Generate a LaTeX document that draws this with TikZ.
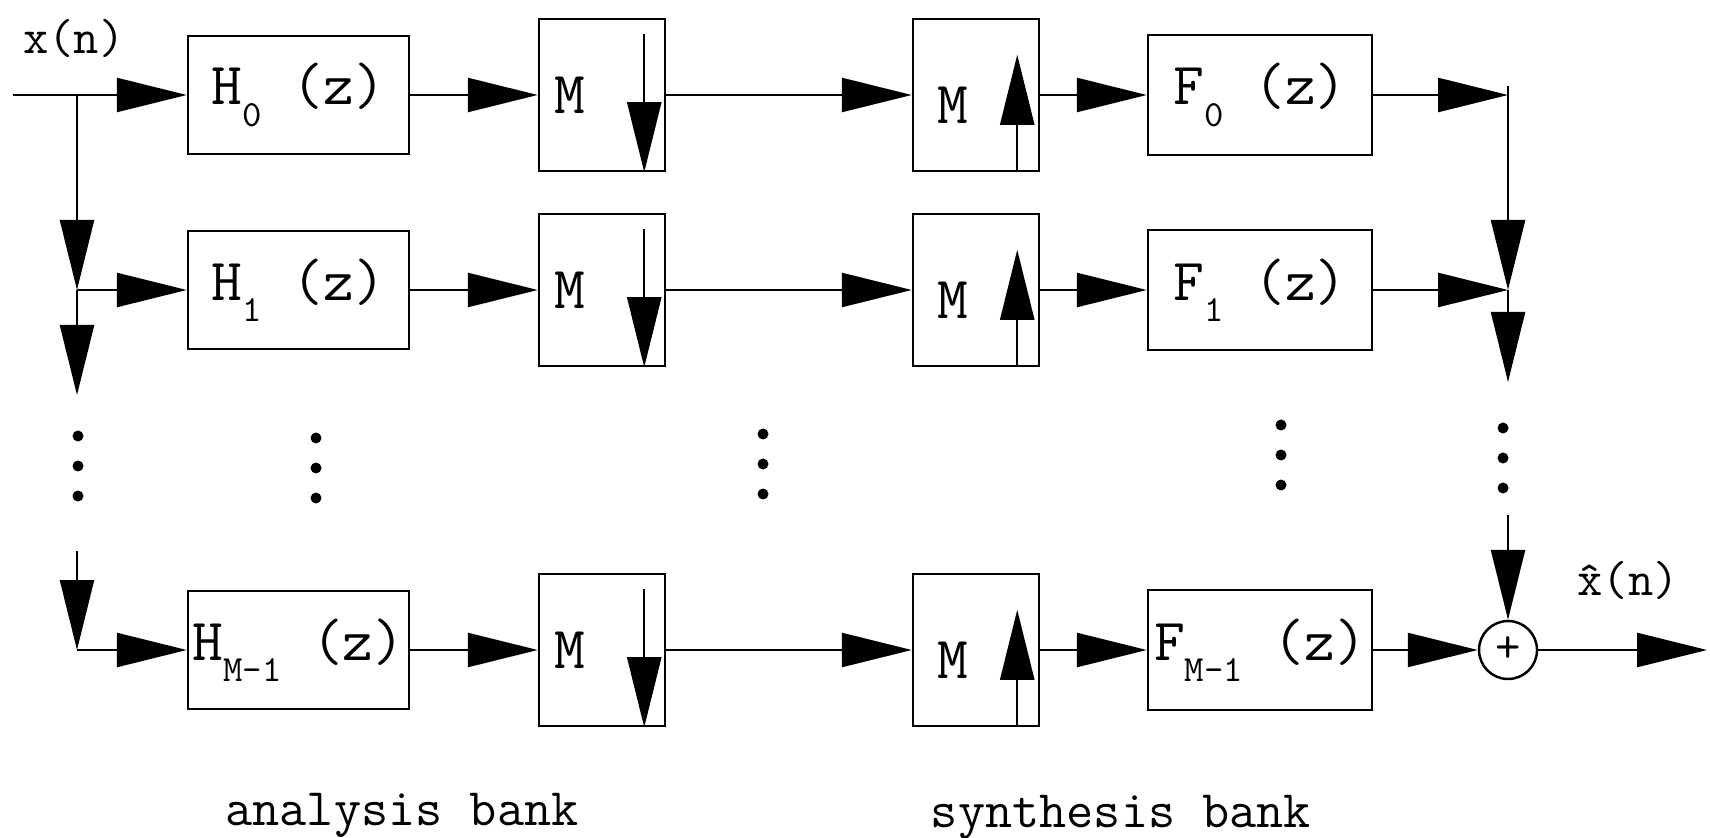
\documentclass[tikz,border=0pt]{standalone}
\usepackage{fontspec}
\usetikzlibrary{arrows.meta,positioning}

\newcommand{\lowsub}[1]{\raisebox{-6pt}{\fontsize{10.5}{12}\selectfont #1}}

\begin{document}
\begin{tikzpicture}[line width=0.7pt, >={Triangle[length=7mm,width=3.4mm]},
  every node/.style={font=\ttfamily\fontsize{17}{20}\selectfont},
  block/.style={draw, rectangle, minimum width=2.21cm, minimum height=1.18cm,
    inner sep=0pt},
  mbox/.style={draw, rectangle, minimum width=1.26cm, minimum height=1.52cm,
    inner sep=0pt},
  mtext/.style={anchor=west, inner sep=0pt},
  adder/.style={draw, circle, minimum size=5.8mm, inner sep=0pt,
    font=\ttfamily\fontsize{14}{14}\selectfont},
  signame/.style={font=\ttfamily\fontsize{14}{16}\selectfont},
  bankname/.style={font=\ttfamily\fontsize{15}{18}\selectfont, anchor=base}]
  \useasboundingbox (0,0) rectangle (17.10,-8.38);

  % the M branches
  \foreach \i/\y/\s in {0/-0.95/0, 1/-2.90/1, m/-6.50/M-1} {
    \node[block] (h\i) at (2.985,\y) {H\lowsub{\s} (z)};
    \node[mbox] (md\i) at (6.02,\y) {};
    \node[mtext] (mdl\i) at ([xshift=1.5mm]md\i.west) {M};
    \node[mbox] (mu\i) at (9.76,\y) {};
    \node[mtext] (mul\i) at ([xshift=2.4mm,yshift=-1mm]mu\i.west) {M};
    \node[block, minimum width=2.24cm, minimum height=1.2cm] (f\i) at (12.60,\y)
      {F\lowsub{\s} (z)};
    \draw[->] (h\i) -- (md\i);
    \draw[->] (md\i) -- (mu\i);
    \draw[->] (mu\i) -- (f\i);
    \draw[->] ([xshift=-2.2mm,yshift=-1.6mm]md\i.north east)
      -- ([xshift=-2.2mm]md\i.south east);
    \draw[->] ([xshift=-2.3mm]mu\i.south east)
      -- ([xshift=-2.3mm,yshift=-3.7mm]mu\i.north east);
  }

  % input side
  \node[signame] (xin) at (0.74,-0.38) {x(n)};
  \coordinate (in) at (0.13,-0.95);
  \coordinate (j0) at (0.77,-0.95);
  \coordinate (j1) at (0.77,-2.90);
  \coordinate (jd) at (0.77,-3.95);
  \coordinate (ju) at (0.77,-5.51);
  \coordinate (jm) at (0.77,-6.50);
  \draw[->] (in) -- (h0);
  \draw[->] (j0) -- (j1);
  \draw[->] (j1) -- (h1);
  \draw[->] (j1) -- (jd);
  \draw[->] (ju) -- (jm);
  \draw[->] (jm) -- (hm);

  % output side
  \node[adder] (add) at (15.08,-6.50) {+};
  \coordinate (k0) at (15.08,-0.95);
  \coordinate (k1) at (15.08,-2.90);
  \coordinate (kd) at (15.08,-3.82);
  \coordinate (ku) at (15.08,-5.15);
  \coordinate (out) at (17.07,-6.50);
  \draw[->] (f0) -- (k0);
  \draw[->] (f1) -- (k1);
  \draw[->] ([yshift=0.9mm]k0) -- (k1);
  \draw[->] (k1) -- (kd);
  \draw[->] (ku) -- (add);
  \draw[->] (fm) -- (add);
  \draw[->] (add) -- (out);
  \node[signame] (xout) at (16.28,-5.80) {\^{x}(n)};

  % vertical dots
  \foreach \x/\y in {0.78/4.36, 3.16/4.38, 7.63/4.34, 12.81/4.25, 15.03/4.28}
    \foreach \k in {0,1,2}
      \fill ({\x},{-\y-0.30*\k}) circle (0.055);

  \node[bankname] (anl) at (4.02,-8.25) {analysis bank};
  \node[bankname] (syn) at (11.21,-8.27) {synthesis bank};
\end{tikzpicture}
\end{document}
